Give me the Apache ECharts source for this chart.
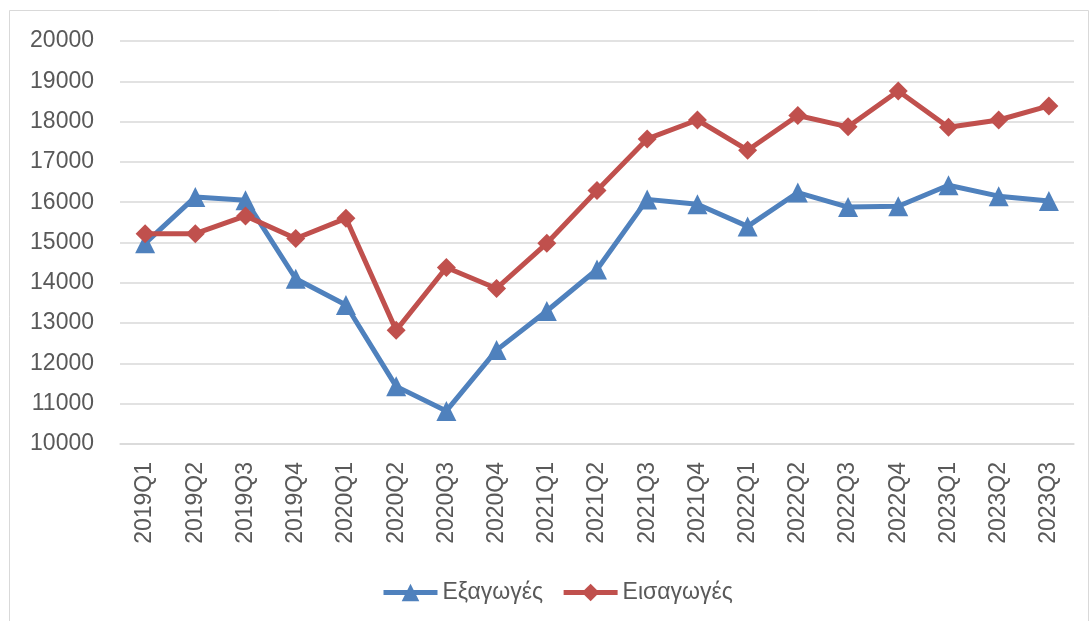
<!DOCTYPE html>
<html>
<head>
<meta charset="utf-8">
<script src="https://cdn.jsdelivr.net/npm/echarts@6/dist/echarts.min.js"></script>
<style>
  html, body { margin: 0; padding: 0; background: #fff; }
  #chart { width: 1091px; height: 621px; }
</style>
</head>
<body>
<div id="chart"></div>
<script>
const quarters = [
  "2019Q1", "2019Q2", "2019Q3", "2019Q4",
  "2020Q1", "2020Q2", "2020Q3", "2020Q4",
  "2021Q1", "2021Q2", "2021Q3", "2021Q4",
  "2022Q1", "2022Q2", "2022Q3", "2022Q4",
  "2023Q1", "2023Q2", "2023Q3"
];
// Εξαγωγές
const exportsData = [
  14980, 16130, 16050, 14100,
  13450, 11430, 10820, 12330,
  13300, 14330, 16070, 15950,
  15400, 16240, 15880, 15900,
  16420, 16150, 16030
];
// Εισαγωγές
const importsData = [
  15220, 15220, 15660, 15100,
  15600, 12820, 14380, 13860,
  14980, 16290, 17570, 18040,
  17290, 18150, 17870, 18760,
  17860, 18040, 18390
];
const yMin = 10000, yMax = 20000, yStep = 1000;

const font = "Liberation Sans";
const chart = echarts.init(document.getElementById("chart"));

chart.setOption({
  animation: false,
  backgroundColor: "#fff",
  graphic: [{
    type: "rect",
    shape: { x: 9.5, y: 10.5, width: 1079, height: 620 },
    style: { fill: "none", stroke: "#d9d9d9", lineWidth: 1 },
    silent: true
  }],
  grid: { left: 120, right: 17, top: 41, bottom: 177 },
  legend: {
    left: 376,
    top: 576,
    itemWidth: 54,
    itemHeight: 22,
    itemGap: 18,
    lineStyle: { width: 5 },
    textStyle: { fontFamily: font, fontSize: 23, color: "#595959" },
    data: ["Εξαγωγές", "Εισαγωγές"]
  },
  xAxis: {
    type: "category",
    data: quarters,
    boundaryGap: true,
    axisLine: { show: true, lineStyle: { color: "#d9d9d9", width: 1.5 } },
    axisTick: { show: false },
    axisLabel: {
      rotate: 90,
      margin: 18,
      interval: 0,
      fontFamily: font,
      fontSize: 23,
      color: "#595959"
    }
  },
  yAxis: {
    type: "value",
    min: yMin,
    max: yMax,
    interval: yStep,
    axisLine: { show: false },
    axisTick: { show: false },
    splitLine: { lineStyle: { color: "#d9d9d9", width: 1.5 } },
    axisLabel: {
      margin: 26,
      formatter: (v) => String(v),
      fontFamily: font,
      fontSize: 23,
      color: "#595959"
    }
  },
  series: [
    {
      name: "Εξαγωγές",
      type: "line",
      data: exportsData,
      symbol: "triangle",
      symbolSize: 20,
      itemStyle: { color: "#4f81bd" },
      lineStyle: { color: "#4f81bd", width: 5 }
    },
    {
      name: "Εισαγωγές",
      type: "line",
      data: importsData,
      symbol: "diamond",
      symbolSize: 19,
      itemStyle: { color: "#c0504d" },
      lineStyle: { color: "#c0504d", width: 5 }
    }
  ]
});
</script>
</body>
</html>
